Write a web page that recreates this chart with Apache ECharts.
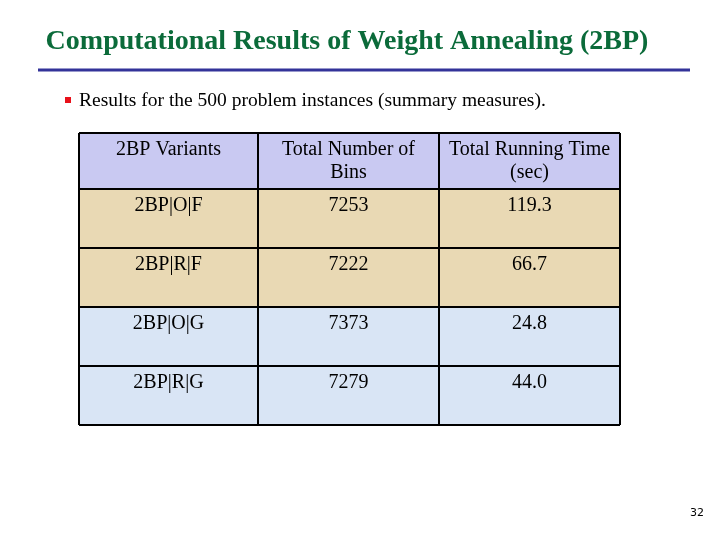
<!DOCTYPE html>
<meta charset="utf-8" />
<style>
html, body { margin: 0; background: #fff; }
#chart { width: 720px; height: 540px; }
</style>
<div id="chart"></div>
<script src="https://cdn.jsdelivr.net/npm/echarts@6/dist/echarts.min.js"></script>
<script>
const title = 'Computational Results of Weight Annealing (2BP)';
const bullet = 'Results for the 500 problem instances (summary measures).';
const headers = ['2BP Variants', 'Total Number of\nBins', 'Total Running Time\n(sec)'];
const variants = ['2BP|O|F', '2BP|R|F', '2BP|O|G', '2BP|R|G'];
const bins = [7253, 7222, 7373, 7279];
const times = ['119.3', '66.7', '24.8', '44.0'];
const rowFills = ['#e9d9b4', '#e9d9b4', '#d9e5f5', '#d9e5f5'];

const colX = [79, 258, 439, 620];
const rowY = [133, 189, 248, 307, 366, 425];
const serif = '"Liberation Serif", "Times New Roman", serif';

const els = [];
els.push({ type: 'text', x: 347, y: 42,
  style: { text: title, font: 'bold 28px ' + serif, fill: '#0b6b3a', align: 'center', verticalAlign: 'middle' } });
els.push({ type: 'line', shape: { x1: 38, y1: 70, x2: 690, y2: 70 },
  style: { stroke: '#333399', lineWidth: 3 } });
els.push({ type: 'rect', shape: { x: 65, y: 97, width: 6, height: 6 }, style: { fill: '#e8101a' } });
els.push({ type: 'text', x: 79, y: 101,
  style: { text: bullet, font: '19.5px ' + serif, fill: '#000', verticalAlign: 'middle' } });

const cell = (c, r, fill, text, dy) => {
  const x = colX[c], y = rowY[r], w = colX[c + 1] - x, h = rowY[r + 1] - y;
  els.push({ type: 'rect', shape: { x, y, width: w, height: h }, style: { fill, stroke: 'none' } });
  els.push({ type: 'text', x: x + w / 2, y: y + dy,
    style: { text, font: '20px ' + serif, fill: '#000', align: 'center', verticalAlign: 'top', lineHeight: 23 } });
};
headers.forEach((h, c) => cell(c, 0, '#c9c9f2', h, 5));
variants.forEach((v, i) => {
  cell(0, i + 1, rowFills[i], v, 5);
  cell(1, i + 1, rowFills[i], String(bins[i]), 5);
  cell(2, i + 1, rowFills[i], times[i], 5);
});
// grid lines
rowY.forEach(y => els.push({ type: 'line', shape: { x1: colX[0], y1: y, x2: colX[3], y2: y },
  style: { stroke: '#000', lineWidth: 2 } }));
colX.forEach(x => els.push({ type: 'line', shape: { x1: x, y1: rowY[0], x2: x, y2: rowY[5] },
  style: { stroke: '#000', lineWidth: 2 } }));

els.push({ type: 'text', x: 697, y: 508, style: { text: '32', font: '11px "DejaVu Sans", sans-serif', fill: '#000', align: 'center' } });

const chart = echarts.init(document.getElementById('chart'));
chart.setOption({ animation: false, graphic: els });
</script>
